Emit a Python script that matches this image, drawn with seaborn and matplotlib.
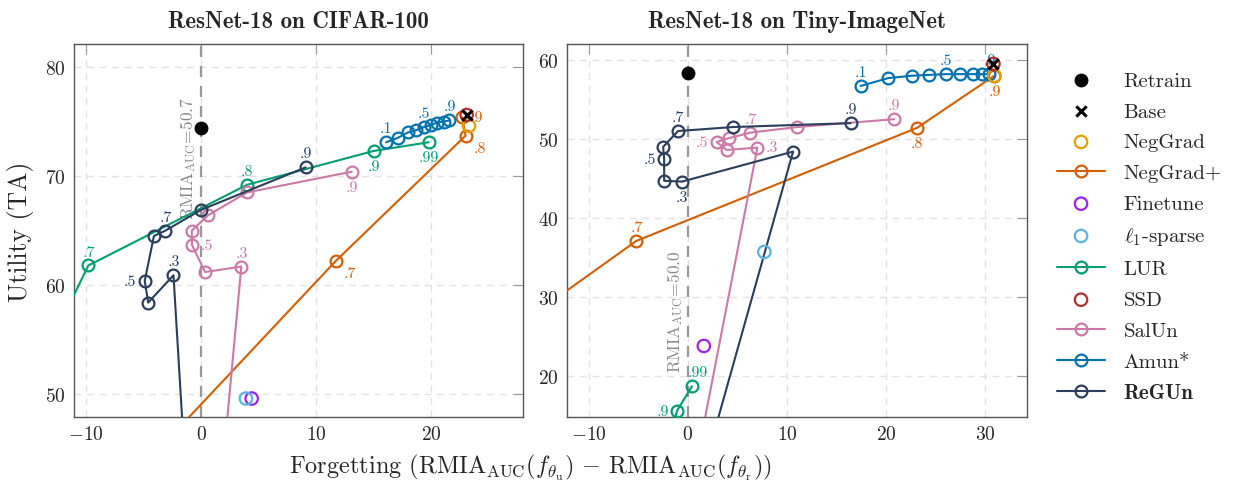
import matplotlib
matplotlib.use("Agg")
import matplotlib.pyplot as plt
import seaborn as sns

# ResNet-18 on CIFAR-100  (x = forgetting, y = utility)
cifar_retrain = ([0.0], [74.4])
cifar_base = ([23.1], [75.6])
cifar_neggrad = ([23.3], [74.6])
cifar_neggradp = ([22.7, 23.0, 11.7, -3.0], [75.4, 73.7, 62.2, 45.7])
cifar_neggradp_lbl = [".9", ".8", ".7", ""]
cifar_finetune = ([4.4], [49.6])
cifar_l1 = ([3.9], [49.6])
cifar_lur = ([-12.5, -9.8, 4.0, 15.0, 19.8], [56.0, 61.8, 69.2, 72.3, 73.1])
cifar_lur_lbl = ["", ".7", ".8", ".9", ".99"]
cifar_ssd = ([23.1], [75.6])
cifar_salun = ([13.1, 4.0, 0.6, -0.8, -0.8, 0.35, 3.5, 1.6],
               [70.4, 68.5, 66.4, 65.0, 63.7, 61.2, 61.7, 40.0])
cifar_salun_lbl = [".9", "", "", "", ".5", "", ".3", ""]
cifar_amun = ([16.1, 17.1, 18.0, 18.7, 19.4, 20.0, 20.5, 21.1, 21.6],
              [73.1, 73.5, 74.0, 74.2, 74.5, 74.7, 74.9, 75.0, 75.1])
cifar_amun_lbl = [".1", "", "", "", ".5", "", "", "", ".9"]
cifar_regun = ([9.1, 0.0, -3.1, -4.1, -4.9, -4.6, -2.4, -1.2],
               [70.8, 66.9, 65.0, 64.5, 60.4, 58.4, 60.9, 40.0])
cifar_regun_lbl = [".9", "", ".7", "", ".5", "", ".3", ""]
cifar_rmia = "50.7"

# ResNet-18 on Tiny-ImageNet
tiny_retrain = ([0.0], [58.4])
tiny_base = ([30.8], [59.5])
tiny_neggrad = ([30.9], [58.0])
tiny_neggradp = ([30.9, 23.1, -5.2, -15.0], [58.0, 51.4, 37.1, 28.3])
tiny_neggradp_lbl = [".9", ".8", ".7", ""]
tiny_finetune = ([1.6], [23.8])
tiny_l1 = ([7.7], [35.7])
tiny_lur = ([0.4, -1.1, -2.5], [18.7, 15.6, 9.0])
tiny_lur_lbl = [".99", ".9", ""]
tiny_ssd = ([30.8], [59.5])
tiny_salun = ([20.8, 11.0, 6.3, 4.1, 2.9, 3.9, 7.0, 1.0],
              [52.5, 51.5, 50.8, 50.1, 49.6, 48.6, 48.9, 10.0])
tiny_salun_lbl = [".9", "", ".7", "", ".5", "", ".3", ""]
tiny_amun = ([17.4, 20.2, 22.6, 24.3, 26.0, 27.4, 28.7, 29.6, 30.4],
             [56.7, 57.7, 58.0, 58.1, 58.2, 58.2, 58.2, 58.2, 58.2])
tiny_amun_lbl = [".1", "", "", "", ".5", "", "", "", ".9"]
tiny_regun = ([16.4, 4.5, -1.0, -2.5, -2.4, -2.4, -0.6, 10.6, 2.0],
              [52.0, 51.5, 51.0, 49.0, 47.4, 44.7, 44.6, 48.4, 10.0])
tiny_regun_lbl = [".9", "", ".7", "", ".5", "", ".3", "", ""]
tiny_rmia = "50.0"

# colours
C_NEGGRAD = "#e69f00"
C_NEGGRADP = "#d55e00"
C_FINETUNE = "#a020f0"
C_L1 = "#56b4e9"
C_LUR = "#009e73"
C_SSD = "#b0302c"
C_SALUN = "#cc79a7"
C_AMUN = "#0072b2"
C_REGUN = "#2b3f5c"

# label placement (a=above, b=below, l=left, r=right)
place = {
    "cifar_neggradp": ["r", "br", "br", ""],
    "cifar_lur": ["", "a", "a", "b", "b"],
    "cifar_salun": ["b", "", "", "", "r", "", "a", ""],
    "cifar_amun": ["a", "", "", "", "a", "", "", "", "a"],
    "cifar_regun": ["a", "", "a", "", "l", "", "a", ""],
    "tiny_neggradp": ["b", "b", "a", ""],
    "tiny_lur": ["ar", "l", ""],
    "tiny_salun": ["a", "", "a", "", "l", "", "r", ""],
    "tiny_amun": ["a", "", "", "", "a", "", "", "", "a"],
    "tiny_regun": ["a", "", "a", "", "l", "", "b", "", ""],
}

sns.set_style("whitegrid")
plt.rcParams["font.family"] = ["cmr10", "DejaVu Serif"]
plt.rcParams["mathtext.fontset"] = "cm"
plt.rcParams["axes.formatter.use_mathtext"] = True
plt.rcParams["axes.unicode_minus"] = True


def draw_line(ax, data, color, label):
    sns.lineplot(x=data[0], y=data[1], ax=ax, sort=False, estimator=None,
                 color=color, linewidth=1.5, marker="o", markersize=8.5,
                 markerfacecolor="none", markeredgecolor=color,
                 markeredgewidth=1.6, label=label, zorder=3)


def draw_point(ax, data, color, label, filled=False, marker="o", z=4):
    if marker == "x":
        sns.scatterplot(x=data[0], y=data[1], ax=ax, marker="x", color=color,
                        s=55, linewidth=2.2, label=label, zorder=z)
    elif filled:
        sns.scatterplot(x=data[0], y=data[1], ax=ax, color=color, s=85,
                        edgecolor=color, label=label, zorder=z)
    else:
        sns.scatterplot(x=data[0], y=data[1], ax=ax, s=80, facecolor="none",
                        edgecolor=color, linewidth=1.6, label=label, zorder=z)


def annotate(ax, data, labels, where, color):
    offs = {"a": (0, 5, "center", "bottom"), "b": (0, -6, "center", "top"),
            "l": (-6, 0, "right", "center"), "r": (6, 0, "left", "center"),
            "br": (6, -4, "left", "top"), "ar": (-3, 5, "left", "bottom")}
    for x, y, t, w in zip(data[0], data[1], labels, where):
        if not t:
            continue
        dx, dy, ha, va = offs[w]
        ax.annotate(t, (x, y), xytext=(dx, dy), textcoords="offset points",
                    ha=ha, va=va, color=color, fontsize=11.5)


fig = plt.figure(figsize=(12.42, 4.85), dpi=100)
ax1 = fig.add_axes([0.0596, 0.138, 0.3615, 0.769])
ax2 = fig.add_axes([0.4565, 0.138, 0.3705, 0.769])

panels = [
    (ax1, "cifar", "ResNet-18 on CIFAR-100",
     cifar_retrain, cifar_base, cifar_neggrad, cifar_neggradp, cifar_finetune,
     cifar_l1, cifar_lur, cifar_ssd, cifar_salun, cifar_amun, cifar_regun,
     [cifar_neggradp_lbl, cifar_lur_lbl, cifar_salun_lbl, cifar_amun_lbl, cifar_regun_lbl],
     cifar_rmia, (-11.05, 28.0), (47.9, 82.1), [-10, 0, 10, 20], [50, 60, 70, 80], 71.7),
    (ax2, "tiny", "ResNet-18 on Tiny-ImageNet",
     tiny_retrain, tiny_base, tiny_neggrad, tiny_neggradp, tiny_finetune,
     tiny_l1, tiny_lur, tiny_ssd, tiny_salun, tiny_amun, tiny_regun,
     [tiny_neggradp_lbl, tiny_lur_lbl, tiny_salun_lbl, tiny_amun_lbl, tiny_regun_lbl],
     tiny_rmia, (-12.2, 34.2), (14.8, 62.0), [-10, 0, 10, 20, 30], [20, 30, 40, 50, 60], 28.3),
]

for (ax, key, title, retrain, base, neggrad, neggradp, finetune, l1, lur, ssd,
     salun, amun, regun, lbls, rmia, xl, yl, xt, yt, ytxt) in panels:
    ax.axvline(0, color="#999999", linestyle=(0, (5, 4)), linewidth=1.6, zorder=1)
    ax.text(-0.25, ytxt, r"RMIA$_{\rm AUC}$=" + rmia, rotation=90, ha="right",
            va="center", color="#8a8a8a", fontsize=12.5)

    draw_point(ax, retrain, "black", "Retrain", filled=True)
    draw_point(ax, base, "black", "Base", marker="x", z=7)
    draw_point(ax, neggrad, C_NEGGRAD, "NegGrad")
    draw_line(ax, neggradp, C_NEGGRADP, "NegGrad+")
    draw_point(ax, finetune, C_FINETUNE, "Finetune")
    draw_point(ax, l1, C_L1, r"$\ell_1$-sparse")
    draw_line(ax, lur, C_LUR, "LUR")
    draw_point(ax, ssd, C_SSD, "SSD", z=6)
    draw_line(ax, salun, C_SALUN, "SalUn")
    draw_line(ax, amun, C_AMUN, "Amun*")
    draw_line(ax, regun, C_REGUN, "ReGUn")

    annotate(ax, neggradp, lbls[0], place[key + "_neggradp"], C_NEGGRADP)
    annotate(ax, lur, lbls[1], place[key + "_lur"], C_LUR)
    annotate(ax, salun, lbls[2], place[key + "_salun"], C_SALUN)
    annotate(ax, amun, lbls[3], place[key + "_amun"], C_AMUN)
    annotate(ax, regun, lbls[4], place[key + "_regun"], C_REGUN)

    ax.set_xlim(*xl)
    ax.set_ylim(*yl)
    ax.set_xticks(xt)
    ax.set_yticks(yt)
    ax.grid(True, linestyle=(0, (5, 4)), color="#e3e3e3", linewidth=1.0)
    ax.tick_params(direction="in", length=7, color="#9a9a9a", top=True,
                   right=True, labelsize=14, pad=6)
    for s in ax.spines.values():
        s.set_color("#555555")
        s.set_linewidth(1.0)
    ax.set_title(title, fontsize=16.5, fontfamily="cmb10", pad=12)
    ax.set_xlabel("")
    if ax.get_legend() is not None:
        ax.get_legend().remove()

ax1.set_ylabel("Utility (TA)", fontsize=18.5, labelpad=8)

fig.text(0.427, 0.035,
         r"Forgetting (RMIA$_{\rm AUC}(f_{\theta_{\rm u}})$ $-$ RMIA$_{\rm AUC}(f_{\theta_{\rm r}})$)",
         ha="center", va="center", fontsize=17.5)

handles, labels = ax1.get_legend_handles_labels()
leg = fig.legend(handles, labels, loc="center left", bbox_to_anchor=(0.836, 0.51),
                 frameon=False, fontsize=15, handlelength=2.3, labelspacing=0.59,
                 handletextpad=0.9)
for t in leg.get_texts():
    if t.get_text() == "ReGUn":
        t.set_fontfamily("cmb10")

fig.savefig("out.png", dpi=100)
